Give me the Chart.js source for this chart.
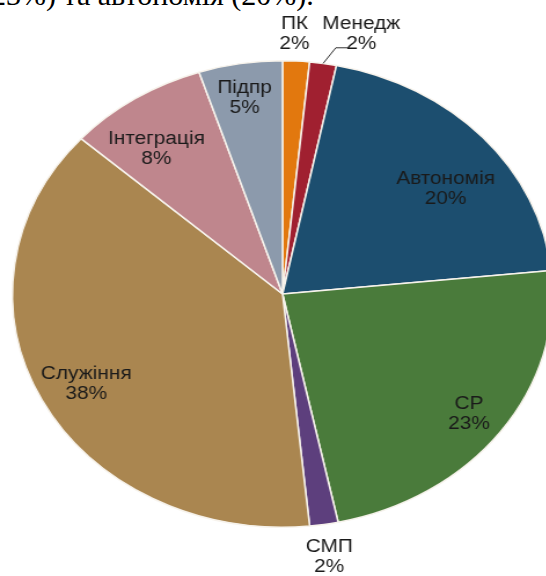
<!DOCTYPE html>
<html>
<head>
    <meta charset="utf-8">
    <title>Pie</title>
    <script src="https://cdn.jsdelivr.net/npm/chart.js"></script>
    <style>
        html, body { margin: 0; padding: 0; background: #fff; }
        body { width: 546px; height: 576px; overflow: hidden; position: relative; }
        .caption {
            position: absolute; left: -9px; top: -20px;
            font: 30px "Liberation Serif", "Times New Roman", serif;
            line-height: 30px; color: #000; white-space: nowrap;
        }
        /* the source picture is stretched sideways, so the pie is an ellipse */
        .wrap {
            position: absolute; left: 0; top: 0; width: 490px; height: 576px;
            transform: scaleX(1.158); transform-origin: 0 0;
        }
    </style>
</head>
<body>
    <div class="caption">23%) та автономія (20%).</div>
    <div class="wrap"><canvas id="myChart" width="490" height="576"></canvas></div>
    <script>
        // data
        var categories = ['ПК', 'Менедж', 'Автономія', 'СР', 'СМП', 'Служіння', 'Інтеграція', 'Підпр'];
        var shares = [1.6, 1.6, 20.2, 23.3, 1.7, 38.2, 8.4, 5.0];

        // styles
        var sliceColors = ['#E2780E', '#A02030', '#1C4E6F', '#4A7B3B', '#5D3F7D', '#AA8650', '#BF868D', '#8C9AAC'];
        var labelRadius = [1.116, 1.153, 0.754, 0.862, 1.141, 0.822, 0.779, 0.851]; // fraction of radius
        var labelShift = [-0.6, 6.0, 5.3, 0.6, 0.1, -0.9, -3.7, -0.5];              // degrees
        var leaderLine = [false, true, false, false, false, false, false, false];

        var total = shares.reduce(function (a, b) { return a + b; }, 0);

        var sliceLabels = {
            id: 'sliceLabels',
            afterDatasetsDraw: function (chart) {
                var ctx = chart.ctx;
                var arcs = chart.getDatasetMeta(0).data;
                ctx.save();
                ctx.font = '18px "Liberation Sans", Arial, sans-serif';
                ctx.fillStyle = '#1a1a1a';
                ctx.strokeStyle = '#333';
                ctx.lineWidth = 1;
                ctx.textAlign = 'center';
                ctx.textBaseline = 'middle';
                arcs.forEach(function (arc, i) {
                    var p = arc.getProps(['x', 'y', 'startAngle', 'endAngle', 'outerRadius'], true);
                    var mid = (p.startAngle + p.endAngle) / 2;
                    var a = mid + labelShift[i] * Math.PI / 180;
                    var r = p.outerRadius * labelRadius[i];
                    var lx = p.x + Math.cos(a) * r;
                    var ly = p.y + Math.sin(a) * r;
                    ctx.fillText(categories[i], lx, ly - 10);
                    ctx.fillText(Math.round(shares[i] / total * 100) + '%', lx, ly + 10);
                    if (leaderLine[i]) {
                        ctx.beginPath();
                        ctx.moveTo(p.x + Math.cos(mid) * p.outerRadius, p.y + Math.sin(mid) * p.outerRadius);
                        ctx.lineTo(lx - 22, ly + 14);
                        ctx.lineTo(lx - 12, ly + 14);
                        ctx.stroke();
                    }
                });
                ctx.restore();
            }
        };

        var ctx = document.getElementById('myChart').getContext('2d');
        var myChart = new Chart(ctx, {
            type: 'pie',
            data: {
                labels: categories,
                datasets: [{
                    data: shares,
                    backgroundColor: sliceColors,
                    borderColor: '#f7f3ec',
                    borderWidth: 1.5
                }]
            },
            options: {
                responsive: false,
                animation: false,
                devicePixelRatio: 1,
                layout: { padding: { left: 10, right: 12, top: 60, bottom: 48 } },
                plugins: {
                    legend: { display: false },
                    tooltip: { enabled: false }
                }
            },
            plugins: [sliceLabels]
        });
    </script>
</body>
</html>
